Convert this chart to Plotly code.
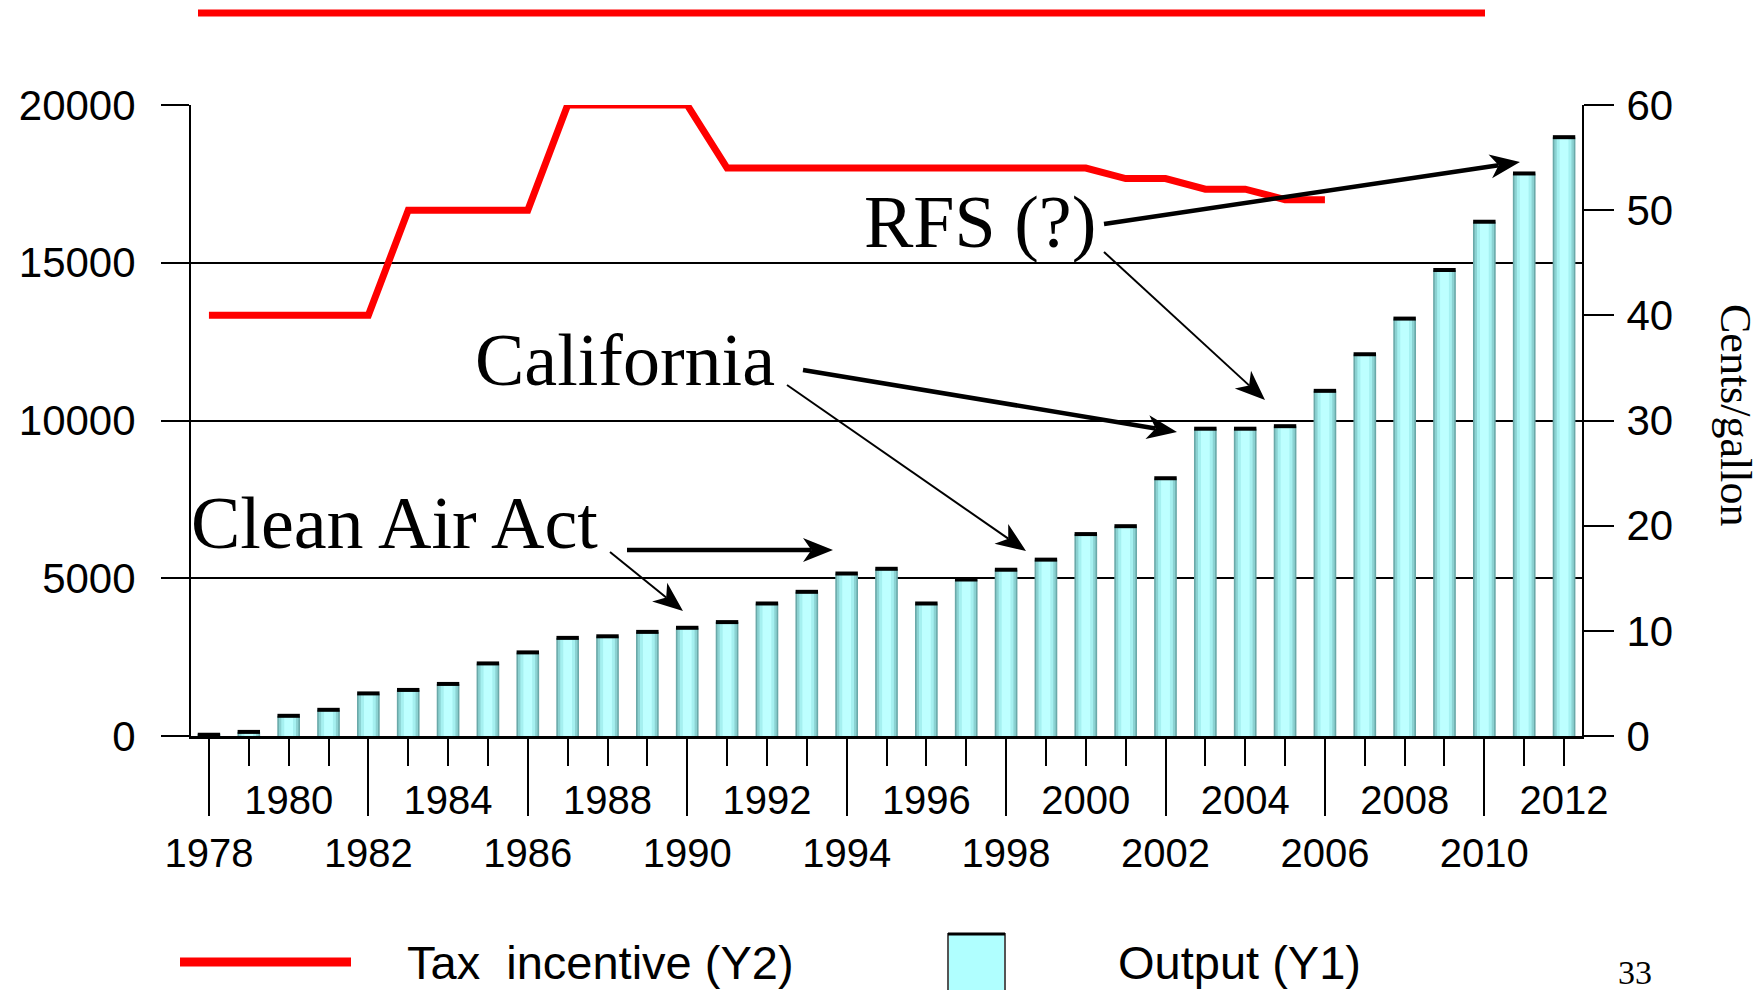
import math
import plotly.graph_objects as go

# ethanol output (Y1) by year
years = list(range(1978, 2013))
output = [40, 130, 640, 830, 1350, 1460, 1650, 2300, 2650, 3110, 3160, 3300, 3430, 3610,
          4200, 4570, 5150, 5300, 4200, 4960, 5270, 5590, 6400, 6650, 8170, 9740, 9740,
          9820, 10940, 12100, 13230, 14770, 16300, 17830, 18980]

# federal tax incentive (Y2), cents per gallon
tax_years = list(range(1978, 2007))
tax_cents = [40, 40, 40, 40, 40, 50, 50, 50, 50, 60, 60, 60, 60, 54, 54, 54, 54, 54, 54,
             54, 54, 54, 54, 53, 53, 52, 52, 51, 51]

top_row_years = list(range(1980, 2013, 4))   # labels printed on the upper row

W, H = 1760, 990
L, R, T, B = 191, 178, 105, 254
X_RANGE = [1977.55, 2012.45]


def px(x):
    return (x - L) / (W - L - R)


def py(y):
    return (H - B - y) / (H - T - B)


def arrow(x0, y0, x1, y1, width, head_len=30, head_w=24):
    """line + notched head, pixel coords in, paper shapes out"""
    dx, dy = x1 - x0, y1 - y0
    n = math.hypot(dx, dy)
    ux, uy = dx / n, dy / n
    vx, vy = -uy, ux
    bx, by = x1 - ux * head_len, y1 - uy * head_len
    nx, ny = x1 - ux * head_len * 0.72, y1 - uy * head_len * 0.72
    lx, ly = bx + vx * head_w / 2, by + vy * head_w / 2
    rx, ry = bx - vx * head_w / 2, by - vy * head_w / 2
    path = "M{},{} L{},{} L{},{} L{},{} Z".format(
        px(x1), py(y1), px(lx), py(ly), px(nx), py(ny), px(rx), py(ry))
    return [
        dict(type="line", xref="paper", yref="paper", x0=px(x0), y0=py(y0),
             x1=px(nx), y1=py(ny), line=dict(color="black", width=width), layer="above"),
        dict(type="path", xref="paper", yref="paper", path=path, fillcolor="black",
             line=dict(width=0), layer="above"),
    ]


fig = go.Figure()

# cylinder look: stacked bars, dark edges to light centre
shades = [(0.57, "#6AA9A9"), (0.49, "#8BD2D2"), (0.37, "#A5F0F0"), (0.22, "#BDFFFF")]
for w, c in shades:
    fig.add_bar(x=years, y=output, width=w, marker=dict(color=c, line=dict(width=0)),
                hoverinfo="skip", showlegend=False)

# black cap on top of each bar
fig.add_scatter(x=years, y=output, mode="markers", hoverinfo="skip", showlegend=False,
                marker=dict(symbol="line-ew", size=16, line=dict(width=4, color="black")))

fig.add_scatter(x=tax_years, y=tax_cents, mode="lines", xaxis="x2", yaxis="y2",
                line=dict(color="#FF0000", width=7), cliponaxis=False, showlegend=False)

tick_font = dict(family="Liberation Sans, Arial, sans-serif", size=40, color="black")
serif = "Liberation Serif, Times New Roman, serif"

fig.update_layout(
    width=W, height=H,
    margin=dict(l=L, r=R, t=T, b=B),
    paper_bgcolor="white", plot_bgcolor="white",
    barmode="overlay", showlegend=False,
    xaxis=dict(range=X_RANGE, tickmode="linear", tick0=1978, dtick=4, tickformat="d",
               ticks="outside", ticklen=77, tickwidth=2, tickcolor="black",
               showline=True, linewidth=2.5, linecolor="black", showgrid=False,
               zeroline=False, tickfont=tick_font, ticklabelstandoff=3,
               minor=dict(ticks="outside", ticklen=27, tickwidth=2, tickcolor="black",
                          tick0=1978, dtick=1, showgrid=False)),
    xaxis2=dict(range=X_RANGE, overlaying="x", anchor="y2", side="bottom",
                tickmode="array", tickvals=top_row_years,
                ticktext=[str(v) for v in top_row_years],
                ticks="", showline=False, showgrid=False, zeroline=False,
                tickfont=tick_font, ticklabelstandoff=37),
    yaxis=dict(range=[0, 20000], tickmode="linear", tick0=0, dtick=5000, tickformat="d",
               ticks="outside", ticklen=28, tickwidth=1.5, tickcolor="black",
               showgrid=True, gridcolor="black", gridwidth=1.5,
               showline=True, linewidth=2, linecolor="black", zeroline=False,
               tickfont=dict(family="Liberation Sans, Arial, sans-serif", size=42, color="black"),
               ticklabelstandoff=17),
    yaxis2=dict(range=[0, 60], overlaying="y", side="right", anchor="x2",
                tickmode="linear", tick0=0, dtick=10,
                ticks="outside", ticklen=30, tickwidth=1.5, tickcolor="black",
                showgrid=False, showline=True, linewidth=2, linecolor="black",
                zeroline=False,
                tickfont=dict(family="Liberation Sans, Arial, sans-serif", size=42, color="black"),
                ticklabelstandoff=4),
)

shapes = []
# red rule across the top of the slide
shapes.append(dict(type="line", xref="paper", yref="paper", x0=px(198), y0=py(13),
                   x1=px(1485), y1=py(13), line=dict(color="#FF0000", width=7)))

# annotation arrows
shapes += arrow(1104, 224, 1520, 162, 4.5)
shapes += arrow(1104, 252, 1265, 400, 2)
shapes += arrow(803, 370, 1177, 432, 4.5)
shapes += arrow(787, 385, 1026, 551, 2)
shapes += arrow(627, 550, 833, 550, 4.5)
shapes += arrow(610, 552, 683, 611, 2)

# hand drawn legend
shapes.append(dict(type="line", xref="paper", yref="paper", x0=px(180), y0=py(962),
                   x1=px(351), y1=py(962), line=dict(color="#FF0000", width=9)))
shapes.append(dict(type="rect", xref="paper", yref="paper", x0=px(948), y0=py(934),
                   x1=px(1005), y1=py(996), fillcolor="#B0FFFF",
                   line=dict(color="#555555", width=2)))
shapes.append(dict(type="line", xref="paper", yref="paper", x0=px(948), y0=py(934),
                   x1=px(1005), y1=py(934), line=dict(color="black", width=3)))

fig.update_layout(shapes=shapes)

notes = [
    ("RFS (?)", 862, 222),
    ("California", 473, 360),
    ("Clean Air Act", 189, 523),
]
for text, x, y in notes:
    fig.add_annotation(text=text, xref="paper", yref="paper", x=px(x), y=py(y),
                       xanchor="left", yanchor="middle", showarrow=False,
                       font=dict(family=serif, size=74, color="black"))

fig.add_annotation(text="Cents/gallon", xref="paper", yref="paper", x=px(1736), y=py(415),
                   textangle=90, showarrow=False, xanchor="center", yanchor="middle",
                   font=dict(family=serif, size=44, color="black"))

legend_font = dict(family="Liberation Sans, Arial, sans-serif", size=47, color="black")
fig.add_annotation(text="Tax\u00a0 incentive (Y2)", xref="paper", yref="paper",
                   x=px(405), y=py(962), xanchor="left", yanchor="middle",
                   showarrow=False, font=legend_font)
fig.add_annotation(text="Output (Y1)", xref="paper", yref="paper",
                   x=px(1116), y=py(962), xanchor="left", yanchor="middle",
                   showarrow=False, font=legend_font)
fig.add_annotation(text="33", xref="paper", yref="paper", x=px(1635), y=py(972),
                   xanchor="center", yanchor="middle", showarrow=False,
                   font=dict(family=serif, size=34, color="black"))

# page has a default 8px body margin; drop it so the figure sits at the corner
fig.write_html("out.html", config={"displayModeBar": False},
               post_script="document.body.style.margin='0';")
